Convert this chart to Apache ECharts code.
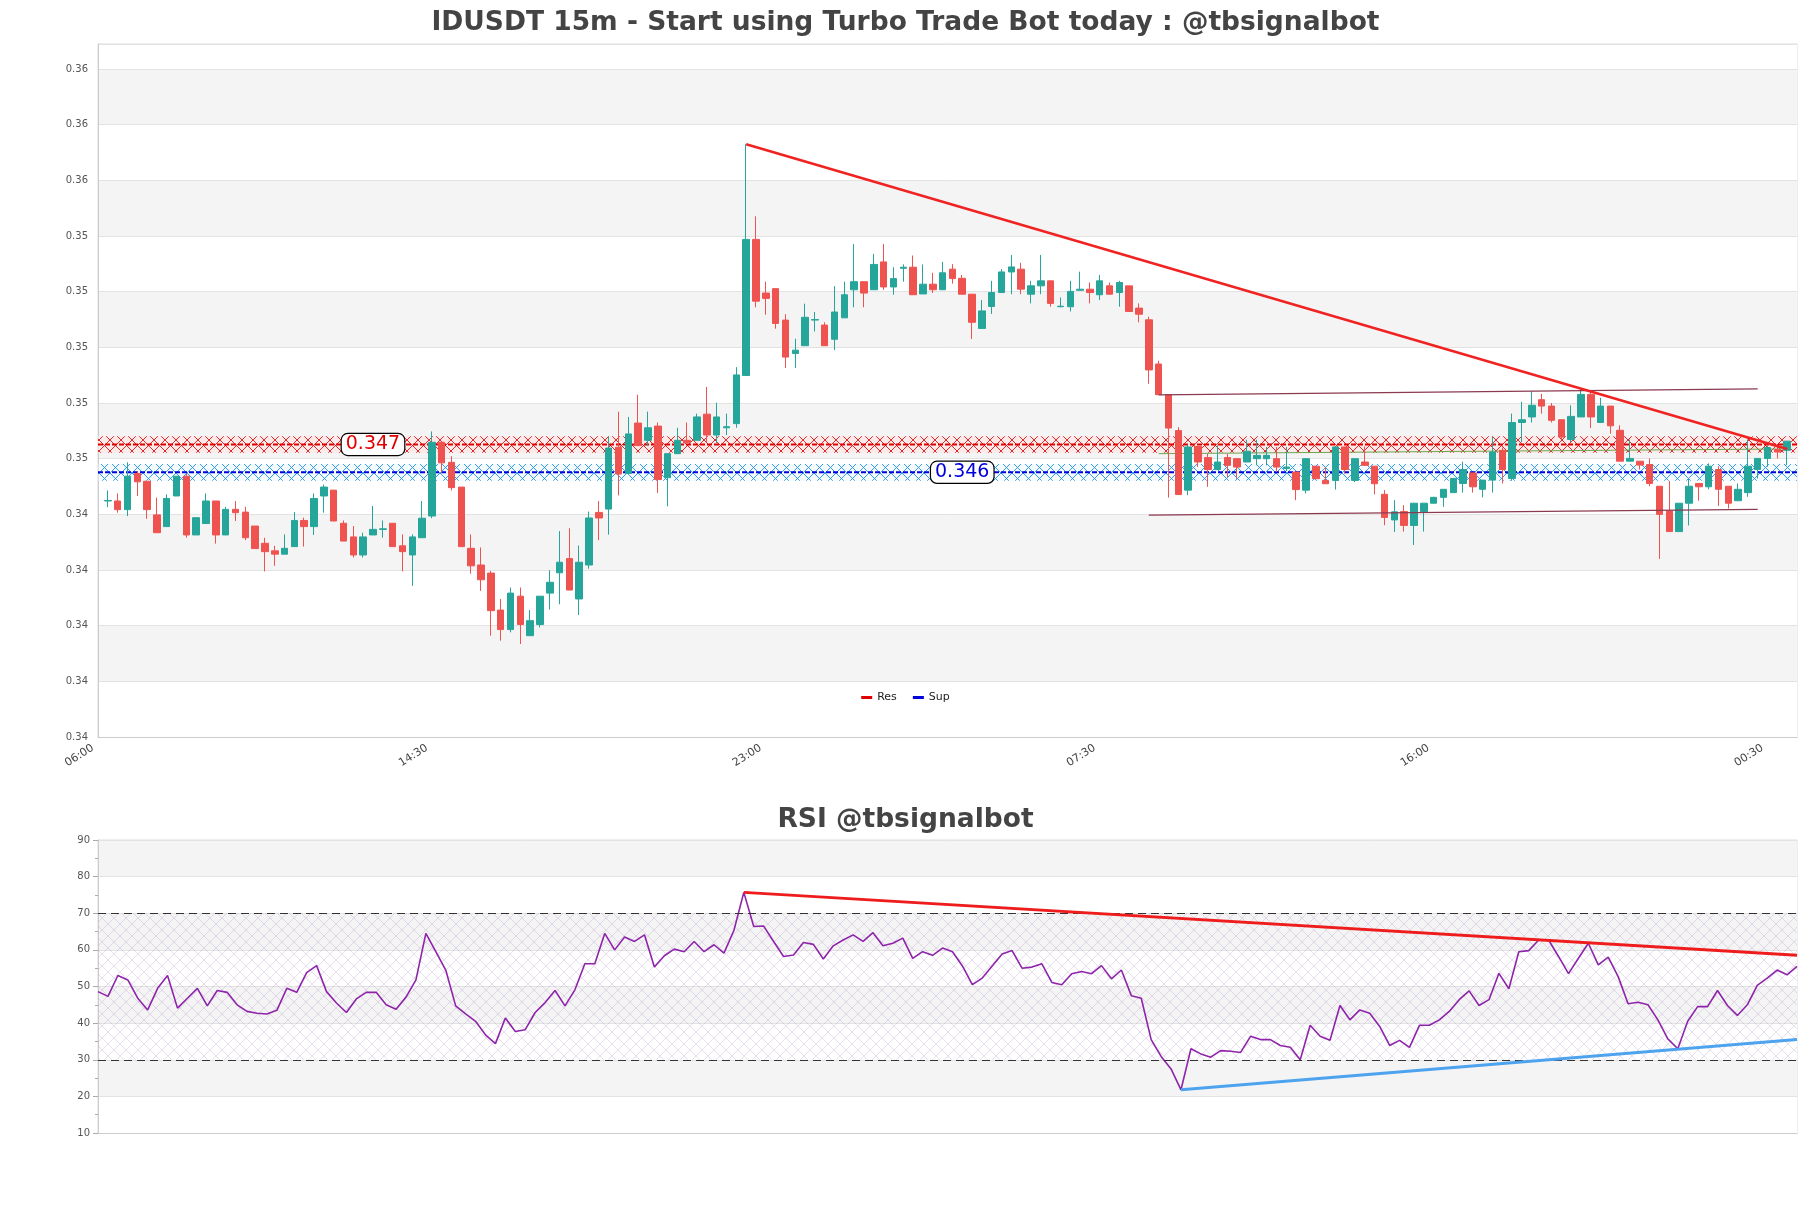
<!DOCTYPE html>
<html><head><meta charset="utf-8">
<script src="https://cdn.jsdelivr.net/npm/echarts@6/dist/echarts.min.js"></script>
<style>html,body{margin:0;padding:0;background:#fff;}#c{width:1811px;height:1208px;}</style>
</head><body><div id="c"></div>
<script>
// ---------- DATA ----------
const startMinutes = 6 * 60;      // 06:00
const stepMinutes = 15;
const categoryCount = 174;        // one empty slot at each end
const timeCats = [];
for (let k = 0; k < categoryCount; k++) {
  const m = (startMinutes + stepMinutes * k) % 1440;
  timeCats.push(String(Math.floor(m / 60)).padStart(2, '0') + ':' + String(m % 60).padStart(2, '0'));
}
const candleOpen = [
0.34448,0.34448,0.34417,0.34547,0.34519,0.34398,0.34356,0.34466,0.34537,0.34326,
0.34367,0.34448,0.34326,0.34418,0.34408,0.34358,0.34296,0.34269,0.34257,0.34284,
0.34378,0.34356,0.34466,0.34487,0.34368,0.34319,0.34254,0.34326,0.34346,0.34368,
0.34287,0.34254,0.34316,0.34394,0.34659,0.34587,0.34498,0.34278,0.34218,0.34189,
0.34056,0.33986,0.34106,0.33964,0.34004,0.34117,0.34190,0.34241,0.34096,0.34218,
0.34407,0.34419,0.34641,0.34547,0.34728,0.34666,0.34717,0.34532,0.34618,0.34666,
0.34666,0.34760,0.34685,0.34711,0.34726,0.34899,0.35388,0.35195,0.35211,0.35098,
0.34978,0.35006,0.35098,0.35080,0.35029,0.35106,0.35207,0.35236,0.35207,0.35307,
0.35217,0.35284,0.35288,0.35192,0.35227,0.35207,0.35281,0.35248,0.35191,0.35068,
0.35147,0.35197,0.35271,0.35281,0.35191,0.35221,0.35239,0.35146,0.35146,0.35205,
0.35209,0.35189,0.35221,0.35197,0.35221,0.35141,0.35099,0.34940,0.34830,0.34701,
0.34487,0.34644,0.34604,0.34561,0.34604,0.34600,0.34588,0.34600,0.34600,0.34600,
0.34565,0.34552,0.34487,0.34573,0.34522,0.34522,0.34642,0.34522,0.34588,0.34573,
0.34472,0.34380,0.34410,0.34360,0.34410,0.34440,0.34461,0.34478,0.34511,0.34549,
0.34490,0.34523,0.34630,0.34529,0.34730,0.34750,0.34812,0.34789,0.34740,0.34669,
0.34750,0.34831,0.34730,0.34789,0.34702,0.34591,0.34591,0.34579,0.34501,0.34412,
0.34338,0.34440,0.34511,0.34499,0.34561,0.34501,0.34449,0.34478,0.34561,0.34601,
0.34633,0.34630];
const candleClose = [
0.34450,0.34417,0.34537,0.34517,0.34417,0.34334,0.34457,0.34537,0.34326,0.34388,
0.34448,0.34326,0.34418,0.34406,0.34316,0.34277,0.34266,0.34257,0.34278,0.34378,
0.34356,0.34457,0.34498,0.34376,0.34304,0.34254,0.34319,0.34346,0.34348,0.34284,
0.34266,0.34319,0.34386,0.34659,0.34585,0.34496,0.34284,0.34215,0.34165,0.34054,
0.33986,0.34117,0.34004,0.34018,0.34106,0.34156,0.34228,0.34128,0.34228,0.34387,
0.34387,0.34638,0.34545,0.34689,0.34647,0.34711,0.34525,0.34618,0.34666,0.34657,
0.34750,0.34685,0.34750,0.34715,0.34901,0.35388,0.35166,0.35176,0.35086,0.34965,
0.34990,0.35108,0.35100,0.35006,0.35127,0.35189,0.35236,0.35195,0.35298,0.35217,
0.35247,0.35288,0.35189,0.35227,0.35207,0.35268,0.35247,0.35191,0.35090,0.35131,
0.35197,0.35271,0.35289,0.35209,0.35221,0.35239,0.35158,0.35148,0.35201,0.35209,
0.35197,0.35239,0.35191,0.35233,0.35129,0.35119,0.34919,0.34830,0.34710,0.34471,
0.34642,0.34588,0.34561,0.34588,0.34576,0.34570,0.34627,0.34612,0.34612,0.34570,
0.34570,0.34489,0.34600,0.34528,0.34510,0.34642,0.34561,0.34600,0.34576,0.34510,
0.34389,0.34409,0.34360,0.34440,0.34440,0.34461,0.34490,0.34529,0.34561,0.34499,
0.34523,0.34624,0.34561,0.34730,0.34740,0.34792,0.34789,0.34738,0.34678,0.34752,
0.34831,0.34750,0.34789,0.34718,0.34591,0.34601,0.34577,0.34511,0.34400,0.34338,
0.34440,0.34501,0.34499,0.34573,0.34490,0.34440,0.34490,0.34573,0.34601,0.34640,
0.34624,0.34663];
const candleLow = [
0.34426,0.34406,0.34394,0.34466,0.34384,0.34334,0.34356,0.34466,0.34316,0.34326,
0.34367,0.34295,0.34326,0.34376,0.34307,0.34277,0.34195,0.34215,0.34257,0.34284,
0.34284,0.34326,0.34406,0.34376,0.34304,0.34245,0.34245,0.34326,0.34316,0.34284,
0.34195,0.34143,0.34316,0.34386,0.34549,0.34486,0.34284,0.34187,0.34125,0.33964,
0.33946,0.33976,0.33934,0.33964,0.33994,0.34058,0.34077,0.34128,0.34038,0.34205,
0.34307,0.34327,0.34468,0.34547,0.34647,0.34647,0.34477,0.34429,0.34618,0.34657,
0.34666,0.34660,0.34656,0.34685,0.34711,0.34899,0.35144,0.35117,0.35067,0.34926,
0.34926,0.35006,0.35057,0.35006,0.34990,0.35106,0.35144,0.35144,0.35207,0.35207,
0.35189,0.35236,0.35189,0.35192,0.35195,0.35207,0.35229,0.35191,0.35030,0.35068,
0.35120,0.35197,0.35191,0.35191,0.35158,0.35191,0.35146,0.35144,0.35129,0.35205,
0.35158,0.35170,0.35191,0.35146,0.35129,0.35090,0.34869,0.34830,0.34460,0.34471,
0.34469,0.34570,0.34499,0.34561,0.34534,0.34528,0.34588,0.34576,0.34576,0.34552,
0.34555,0.34451,0.34475,0.34528,0.34510,0.34489,0.34546,0.34516,0.34576,0.34472,
0.34361,0.34337,0.34338,0.34290,0.34338,0.34440,0.34427,0.34478,0.34478,0.34478,
0.34461,0.34478,0.34511,0.34521,0.34660,0.34730,0.34762,0.34730,0.34669,0.34660,
0.34750,0.34710,0.34730,0.34690,0.34591,0.34591,0.34561,0.34501,0.34240,0.34338,
0.34338,0.34360,0.34449,0.34490,0.34430,0.34421,0.34449,0.34463,0.34529,0.34571,
0.34601,0.34577];
const candleHigh = [
0.34486,0.34475,0.34587,0.34555,0.34519,0.34460,0.34472,0.34537,0.34546,0.34388,
0.34475,0.34448,0.34427,0.34448,0.34427,0.34358,0.34316,0.34287,0.34328,0.34408,
0.34388,0.34475,0.34507,0.34487,0.34378,0.34358,0.34334,0.34430,0.34378,0.34368,
0.34328,0.34328,0.34448,0.34698,0.34659,0.34609,0.34498,0.34328,0.34281,0.34197,
0.34096,0.34137,0.34137,0.34056,0.34106,0.34199,0.34340,0.34350,0.34288,0.34410,
0.34448,0.34679,0.34769,0.34750,0.34830,0.34769,0.34730,0.34618,0.34711,0.34730,
0.34762,0.34858,0.34801,0.34762,0.34929,0.35730,0.35471,0.35236,0.35211,0.35119,
0.35031,0.35157,0.35127,0.35090,0.35220,0.35236,0.35371,0.35236,0.35336,0.35371,
0.35288,0.35298,0.35330,0.35298,0.35268,0.35307,0.35299,0.35260,0.35191,0.35170,
0.35239,0.35281,0.35332,0.35304,0.35239,0.35332,0.35239,0.35179,0.35239,0.35272,
0.35233,0.35260,0.35233,0.35239,0.35221,0.35158,0.35110,0.34952,0.34830,0.34713,
0.34650,0.34644,0.34618,0.34648,0.34618,0.34600,0.34668,0.34668,0.34642,0.34642,
0.34642,0.34552,0.34600,0.34573,0.34570,0.34642,0.34642,0.34600,0.34644,0.34573,
0.34487,0.34451,0.34433,0.34440,0.34440,0.34463,0.34490,0.34529,0.34589,0.34549,
0.34523,0.34678,0.34640,0.34762,0.34804,0.34842,0.34833,0.34800,0.34740,0.34792,
0.34851,0.34845,0.34819,0.34789,0.34720,0.34669,0.34591,0.34601,0.34501,0.34520,
0.34440,0.34529,0.34511,0.34583,0.34573,0.34501,0.34511,0.34669,0.34601,0.34648,
0.34648,0.34663];
const rsiValues = [
48.6,47.3,53.0,51.8,46.8,43.6,49.5,53.0,44.1,46.8,49.5,44.7,48.9,48.4,45.0,43.2,42.7,42.5,43.5,49.5,
48.4,53.8,55.7,48.6,45.5,42.9,46.6,48.4,48.4,45.0,43.8,47.1,51.8,64.5,59.5,54.5,44.7,42.5,40.5,36.8,
34.4,41.4,37.7,38.2,42.9,45.6,48.9,44.7,49.1,56.2,56.2,64.5,60.0,63.5,62.3,64.1,55.3,58.4,60.2,59.5,
62.3,59.5,61.4,59.1,65.3,75.7,66.4,66.5,62.3,58.2,58.6,62.0,61.5,57.5,61.1,62.7,64.1,62.3,64.7,61.1,
61.8,63.2,57.7,59.5,58.5,60.5,59.5,55.6,50.5,52.3,55.6,58.9,59.8,55.0,55.3,56.2,51.1,50.5,53.5,54.1,
53.5,55.7,52.1,54.5,47.5,46.8,35.5,30.9,27.5,21.8,33.0,31.6,30.7,32.5,32.3,32.0,36.4,35.5,35.5,33.9,
33.4,30.0,39.4,36.4,35.3,44.8,40.9,43.6,42.7,39.1,33.9,35.3,33.4,39.4,39.4,40.9,43.2,46.4,48.8,44.8,
46.4,53.6,49.4,59.5,59.8,62.7,62.7,58.2,53.5,57.7,61.8,55.9,58.0,52.7,45.3,45.7,45.0,40.9,35.7,33.0,
40.5,44.5,44.5,48.9,44.8,42.1,45.0,50.3,52.3,54.5,53.2,55.5];
const resLevel = 0.34651, supLevel = 0.34551, bandHalf = 0.0003;
const resLabelAt = 28, supLabelAt = 88;
const priceTrend = [[66, 0.3573], [172, 0.34635]];
const channelUpper = [[108, 0.34829], [169, 0.34851]];
const channelLower = [[107, 0.34397], [169, 0.34418]];
const midLine = [[108, 0.34618], [172, 0.34635]];
const rsiResTrend = [[65, 75.7], [171, 58.5]];
const rsiSupTrend = [[109, 21.8], [171, 35.5]];
const rsiLevels = [70, 30];
const yTicks = {min: 0.336, max: 0.3609, step: 0.002};
const rsiTicks = {min: 10, max: 90, step: 10};

// ---------- BUILD ----------
const candleRows = candleOpen.map((o, i) => [i + 1, o, candleClose[i], candleLow[i], candleHigh[i]]);
const rsiCats = timeCats.slice(1, 1 + rsiValues.length);

function makePattern(color, bg, w, h, lw) {
  const c = document.createElement('canvas'); c.width = w; c.height = h;
  const g = c.getContext('2d');
  if (bg) { g.fillStyle = bg; g.fillRect(0, 0, w, h); }
  g.strokeStyle = color; g.lineWidth = lw;
  g.beginPath(); g.moveTo(0, 0); g.lineTo(w, h); g.moveTo(w, 0); g.lineTo(0, h); g.stroke();
  return c;
}
const resPat = {image: makePattern('rgba(225,20,20,0.9)', 'rgba(255,228,228,0.7)', 11, 11, 1), repeat: 'repeat'};
const supPat = {image: makePattern('rgba(30,150,230,0.9)', 'rgba(235,246,255,0.5)', 11, 11, 1), repeat: 'repeat'};
const rsiPat = {image: makePattern('rgba(160,130,185,0.32)', null, 12, 12, 0.8), repeat: 'repeat'};

const labelStyle = (col) => ({
  show: true, position: 'inside', color: col, fontSize: 19, opacity: 1,
  backgroundColor: '#ffffff', borderColor: '#000000', borderWidth: 1.2, borderRadius: 6, padding: [1, 4],
  formatter: p => p.value[1].toFixed(3)
});
const plainLine = (data, color, width, extra) => Object.assign({
  type: 'line', data: data, symbol: 'none', silent: true,
  lineStyle: {color: color, width: width}, itemStyle: {color: color}
}, extra || {});
const labelSeries = (idx, level, col) => ({
  type: 'scatter', data: [[idx, level]], symbol: 'circle', symbolSize: 2, z: 10, silent: true,
  itemStyle: {color: col, opacity: 1}, label: labelStyle(col),
  emphasis: {disabled: true}
});

const chart = echarts.init(document.getElementById('c'), null, {renderer: 'canvas'});
chart.setOption({
  animation: false,
  backgroundColor: '#fff',
  textStyle: {fontFamily: 'DejaVu Sans'},
  title: [
    {text: 'IDUSDT 15m - Start using Turbo Trade Bot today : @tbsignalbot', left: 'center', top: 5,
     textStyle: {fontSize: 26.5, fontWeight: 'bold', color: '#444', fontFamily: 'DejaVu Sans'}},
    {text: 'RSI @tbsignalbot', left: 'center', top: 802,
     textStyle: {fontSize: 26.5, fontWeight: 'bold', color: '#444', fontFamily: 'DejaVu Sans'}}
  ],
  legend: {data: ['Res', 'Sup'], left: 'center', top: 687, icon: 'rect', itemWidth: 11, itemHeight: 3,
           itemGap: 16, textStyle: {fontSize: 11, color: '#222'}},
  grid: [
    {left: 98, right: 14, top: 44, bottom: 471, show: true, borderColor: '#ddd', borderWidth: 1},
    {left: 98, right: 14, top: 840, bottom: 75, show: true, borderColor: '#ddd', borderWidth: 1}
  ],
  xAxis: [
    {type: 'category', gridIndex: 0, data: timeCats, boundaryGap: false,
     axisLine: {lineStyle: {color: '#ccc'}}, axisTick: {show: false},
     axisLabel: {interval: 33, rotate: 32, fontSize: 11, color: '#444', margin: 7, padding: [0, 6, 0, 0]},
     splitLine: {show: false}},
    {type: 'category', gridIndex: 1, data: rsiCats, boundaryGap: false,
     axisLine: {lineStyle: {color: '#ccc'}}, axisTick: {show: false}, axisLabel: {show: false},
     splitLine: {show: false}}
  ],
  yAxis: [
    {type: 'value', gridIndex: 0, min: yTicks.min, max: yTicks.max, interval: yTicks.step, scale: true,
     axisLine: {show: true, lineStyle: {color: '#ccc'}}, axisTick: {show: false},
     axisLabel: {fontSize: 10, color: '#555', margin: 10,
       formatter: v => (Math.abs(v / yTicks.step - Math.round(v / yTicks.step)) < 1e-6 ? v.toFixed(2) : '')},
     splitLine: {lineStyle: {color: '#e2e2e2'}},
     splitArea: {show: true, areaStyle: {color: ['#ffffff', '#f4f4f4']}}},
    {type: 'value', gridIndex: 1, min: rsiTicks.min, max: rsiTicks.max, interval: rsiTicks.step,
     axisLine: {show: true, lineStyle: {color: '#ccc'}},
     axisTick: {show: true, length: 5, lineStyle: {color: '#aaa'}},
     minorTick: {show: true, splitNumber: 2, length: 3, lineStyle: {color: '#aaa'}},
     axisLabel: {fontSize: 10, color: '#555', margin: 8},
     splitLine: {lineStyle: {color: '#e2e2e2'}},
     splitArea: {show: true, areaStyle: {color: ['#ffffff', '#f4f4f4']}}}
  ],
  series: [
    plainLine([[0, resLevel], [timeCats.length - 1, resLevel]], '#e00000', 2, {
      name: 'Res', z: 2, lineStyle: {color: '#e00000', width: 2, type: [5, 2]},
      markArea: {silent: true, itemStyle: {color: resPat},
        data: [[{yAxis: resLevel - bandHalf}, {yAxis: resLevel + bandHalf}]]}}),
    plainLine([[0, supLevel], [timeCats.length - 1, supLevel]], '#0000dd', 2, {
      name: 'Sup', z: 2, lineStyle: {color: '#0000dd', width: 2, type: [5, 2]},
      markArea: {silent: true, itemStyle: {color: supPat},
        data: [[{yAxis: supLevel - bandHalf}, {yAxis: supLevel + bandHalf}]]}}),
    plainLine(midLine, '#6aa84f', 1, {z: 3}),
    {type: 'candlestick', name: 'Price', data: candleRows, encode: {x: 0, y: [1, 2, 3, 4]},
     barWidth: 7, z: 5, silent: true,
     itemStyle: {color: '#26a69a', color0: '#ef5350', borderColor: '#26a69a', borderColor0: '#ef5350', borderWidth: 1}},
    plainLine(channelUpper, '#8c3a50', 1.3, {z: 6}),
    plainLine(channelLower, '#8c3a50', 1.3, {z: 6}),
    plainLine(priceTrend, '#f02222', 2.5, {z: 7}),
    labelSeries(resLabelAt, resLevel, '#e00000'),
    labelSeries(supLabelAt, supLevel, '#0000dd'),
    {type: 'line', name: 'RSI', xAxisIndex: 1, yAxisIndex: 1, data: rsiValues, symbol: 'none', silent: true,
     lineStyle: {color: '#8e24aa', width: 1.6}, itemStyle: {color: '#8e24aa'}, z: 4,
     markArea: {silent: true, itemStyle: {color: rsiPat},
       data: [[{yAxis: rsiLevels[1]}, {yAxis: rsiLevels[0]}]]},
     markLine: {silent: true, symbol: 'none', label: {show: false},
       lineStyle: {color: '#333', width: 1, type: [8, 5]},
       data: rsiLevels.map(v => ({yAxis: v}))}},
    plainLine(rsiResTrend, '#ee1c1c', 3, {xAxisIndex: 1, yAxisIndex: 1, z: 6}),
    plainLine(rsiSupTrend, '#4ea3ef', 3, {xAxisIndex: 1, yAxisIndex: 1, z: 6})
  ]
});
</script></body></html>
